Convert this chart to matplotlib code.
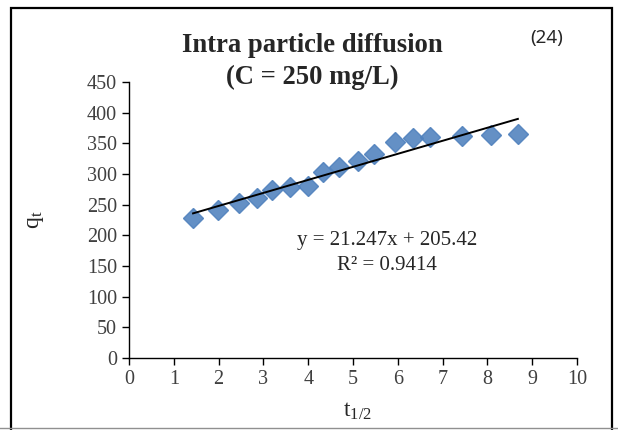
import matplotlib
matplotlib.use('Agg')
import matplotlib.pyplot as plt
from matplotlib.patches import Rectangle
from matplotlib.lines import Line2D

plt.rcParams['font.family'] = ['Liberation Serif', 'DejaVu Serif']
plt.rcParams['mathtext.default'] = 'regular'

# data: t^(1/2) vs q_t
t_half = [1.43, 1.99, 2.46, 2.86, 3.19, 3.59, 4.00, 4.33, 4.69, 5.11, 5.47,
          5.94, 6.34, 6.72, 7.43, 8.08, 8.68]
q_t = [229, 241, 253, 261, 274, 279, 280, 303, 311, 321, 333,
       352, 359, 360, 362, 364, 365]

# linear trendline shown on the chart
slope = 21.247
intercept = 205.42
r_squared = 0.9414

x_ticks = list(range(0, 11))
y_ticks = list(range(0, 451, 50))

fig = plt.figure(figsize=(6.18, 4.30), dpi=100)
ax = fig.add_axes([129/618, 1 - 358/430, 448/618, 276/430])

ax.plot(t_half, q_t, linestyle='none', marker='D', markersize=10,
        markerfacecolor='#4f81bd', markeredgecolor='#4f81bd', alpha=0.88,
        zorder=2)

# trendline over the data range
x0, x1 = min(t_half), max(t_half)
ax.plot([x0, x1], [slope * x0 + intercept, slope * x1 + intercept],
        color='black', linewidth=1.4, zorder=3)

ax.text(5.76, 192, 'y = %.3fx + %.2f' % (slope, intercept), ha='center',
        va='center', fontsize=15, color='#262626')
ax.text(5.76, 151, 'R² = %.4f' % r_squared, ha='center', va='center',
        fontsize=15, color='#262626')

ax.set_xlim(0, 10)
ax.set_ylim(0, 450)
ax.set_xticks(x_ticks)
ax.set_yticks(y_ticks)
ax.tick_params(direction='out', length=5, width=1, labelsize=14.5,
               labelcolor='#404040', color='black')
for side in ['top', 'right']:
    ax.spines[side].set_visible(False)
for side in ['left', 'bottom']:
    ax.spines[side].set_linewidth(1)
ax.set_facecolor('none')

ax.set_ylabel(r'q$_t$', fontsize=17, color='#262626')
ax.yaxis.set_label_coords(-0.185, 0.5)
ax.set_xlabel(r't$_{1/2}$', fontsize=17, color='#262626')
ax.xaxis.set_label_coords(0.51, -0.155)

fig.text(312/618, 1 - 46/430, 'Intra particle diffusion', ha='center',
         va='center', fontsize=19.2, fontweight='bold', color='#262626')
fig.text(312/618, 1 - 77/430, '(C = 250 mg/L)', ha='center', va='center',
         fontsize=19.2, fontweight='bold', color='#262626')
fig.text(547/618, 1 - 38/430, '(24)', ha='center', va='center',
         fontsize=13.5, family=['Noto Sans', 'DejaVu Sans'], color='#262626')

# chart border
fig.patches.append(Rectangle((11/618, -0.01), 601/618, 1 - 8/430 + 0.01,
                             transform=fig.transFigure, fill=False,
                             edgecolor='black', linewidth=1.6))
fig.lines.append(Line2D([0, 1], [1 - 428/430] * 2, transform=fig.transFigure,
                        color='#909090', linewidth=1))

fig.savefig('out.png', dpi=100, facecolor='white')
